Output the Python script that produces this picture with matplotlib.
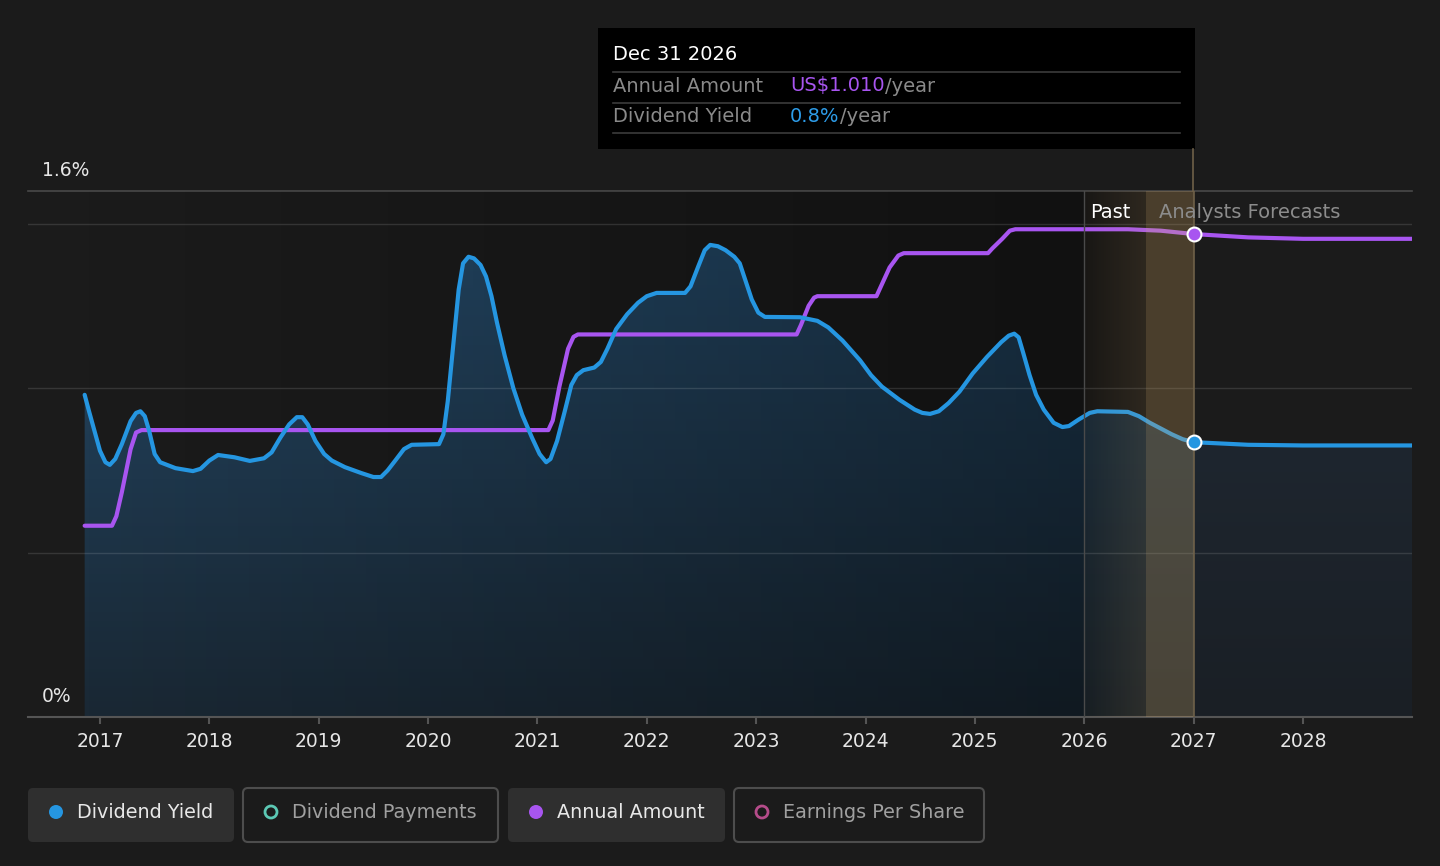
import numpy as np
import matplotlib
matplotlib.use("Agg")
import matplotlib.pyplot as plt
import matplotlib.transforms as mtransforms
from matplotlib.patches import FancyBboxPatch, Circle, Rectangle

W, H = 1440, 866

# dividend yield (%) by fractional year
yield_years = [2016.86, 2016.90, 2016.95, 2017.00, 2017.05, 2017.09, 2017.14, 2017.20, 2017.28,
               2017.33, 2017.37, 2017.41, 2017.45, 2017.50, 2017.55, 2017.69, 2017.85, 2017.92,
               2018.00, 2018.08, 2018.23, 2018.37, 2018.50, 2018.57, 2018.65, 2018.73, 2018.80,
               2018.85, 2018.90, 2018.97, 2019.05, 2019.12, 2019.24, 2019.39, 2019.50, 2019.57,
               2019.63, 2019.70, 2019.78, 2019.85, 2020.10, 2020.14, 2020.18, 2020.23, 2020.28,
               2020.32, 2020.37, 2020.42, 2020.48, 2020.53, 2020.58, 2020.63, 2020.70, 2020.78,
               2020.86, 2020.95, 2021.02, 2021.08, 2021.12, 2021.18, 2021.25, 2021.31, 2021.36,
               2021.42, 2021.52, 2021.58, 2021.64, 2021.72, 2021.82, 2021.92, 2022.00, 2022.09,
               2022.35, 2022.40, 2022.47, 2022.53, 2022.58, 2022.65, 2022.72, 2022.80, 2022.85,
               2022.90, 2022.96, 2023.02, 2023.08, 2023.40, 2023.56, 2023.66, 2023.79, 2023.95,
               2024.05, 2024.15, 2024.31, 2024.45, 2024.52, 2024.59, 2024.67, 2024.76, 2024.86,
               2024.98, 2025.11, 2025.24, 2025.31, 2025.36, 2025.40, 2025.44, 2025.50, 2025.56,
               2025.63, 2025.72, 2025.80, 2025.86, 2025.95, 2026.05, 2026.12, 2026.40, 2026.50,
               2026.60, 2026.80, 2026.90, 2027.00, 2027.50, 2028.00, 2029.00]
yield_pct = [0.98, 0.93, 0.87, 0.81, 0.775, 0.767, 0.785, 0.83, 0.90,
             0.925, 0.93, 0.915, 0.87, 0.80, 0.775, 0.757, 0.748, 0.755,
             0.78, 0.797, 0.79, 0.779, 0.787, 0.805, 0.85, 0.89, 0.912,
             0.912, 0.89, 0.84, 0.80, 0.78, 0.76, 0.742, 0.73, 0.73,
             0.75, 0.78, 0.815, 0.828, 0.83, 0.86, 0.96, 1.13, 1.30,
             1.38, 1.40, 1.395, 1.375, 1.34, 1.28, 1.20, 1.10, 1.00,
             0.92, 0.85, 0.80, 0.775, 0.785, 0.84, 0.93, 1.01, 1.04,
             1.055, 1.063, 1.08, 1.12, 1.18, 1.225, 1.26, 1.28, 1.29,
             1.29, 1.31, 1.37, 1.42, 1.436, 1.432, 1.42, 1.40, 1.38,
             1.33, 1.27, 1.23, 1.217, 1.216, 1.205, 1.185, 1.145, 1.085,
             1.04, 1.005, 0.965, 0.935, 0.925, 0.922, 0.93, 0.955, 0.99,
             1.045, 1.095, 1.14, 1.16, 1.166, 1.155, 1.11, 1.04, 0.98,
             0.935, 0.895, 0.882, 0.885, 0.905, 0.925, 0.93, 0.928, 0.915,
             0.895, 0.86, 0.845, 0.836, 0.828, 0.826, 0.826]

# annual dividend amount (US$) by fractional year
amount_years = [2016.86, 2017.11, 2017.15, 2017.20, 2017.28, 2017.33, 2017.38, 2021.10, 2021.14,
                2021.20, 2021.28, 2021.33, 2021.37, 2023.37, 2023.41, 2023.48, 2023.53, 2023.56,
                2024.10, 2024.14, 2024.22, 2024.30, 2024.35, 2025.12, 2025.16, 2025.25, 2025.32,
                2025.37, 2026.40, 2026.70, 2027.00, 2027.50, 2028.00, 2029.00]
amount_usd = [0.40, 0.40, 0.42, 0.47, 0.56, 0.595, 0.60, 0.60, 0.62,
              0.69, 0.77, 0.795, 0.80, 0.80, 0.82, 0.86, 0.877, 0.88,
              0.88, 0.90, 0.94, 0.965, 0.97, 0.97, 0.98, 1.00, 1.017,
              1.02, 1.02, 1.017, 1.010, 1.003, 1.000, 1.000]

year_ticks = list(range(2017, 2029))
y_labels = ["0%", "1.6%"]
legend_labels = ["Dividend Yield", "Dividend Payments", "Annual Amount", "Earnings Per Share"]

past_start, forecast_start = 2026.0, 2027.0
YMAX = 1.6
AMOUNT_MAX = 1.1
X0, X1 = 2016.342, 2028.997

BG = "#1b1b1b"
BLUE = "#2596e1"
PURPLE = "#a855f0"

fig = plt.figure(figsize=(W / 100, H / 100), dpi=100, facecolor=BG)
ax = fig.add_axes([28 / W, 1 - 717 / H, (1412 - 28) / W, (717 - 191) / H])
ax.set_facecolor(BG)
ax.set_xlim(X0, X1)
ax.set_ylim(0, YMAX)

# area under the yield line: gradient images clipped to the fill polygon
poly = ax.fill_between(yield_years, yield_pct, 0, facecolor="none", edgecolor="none")
clip = poly.get_paths()[0]

t = np.linspace(0, 1, 256)[:, None]
top, bot = np.array([36, 72, 102]) / 255, np.array([26, 40, 52]) / 255
past_img = (bot + (top - bot) * t)[:, None, :]
im = ax.imshow(past_img, extent=[X0, forecast_start, 0, 1.45], origin="lower",
               aspect="auto", zorder=1, interpolation="bilinear")
im.set_clip_path(clip, ax.transData)

top, bot = np.array([30, 38, 47]) / 255, np.array([26, 31, 37]) / 255
fc_img = (bot + (top - bot) * t)[:, None, :]
im = ax.imshow(fc_img, extent=[forecast_start, X1, 0, 0.83], origin="lower",
               aspect="auto", zorder=1.1, interpolation="bilinear")
im.set_clip_path(clip, ax.transData)

# darkening toward the present
xs = np.linspace(X0, X1, 1200)
shade = np.zeros((1, xs.size, 4))
a = np.clip((xs - 2016.8) / (past_start - 2016.8), 0, 1) * 0.37
a[xs > forecast_start] = 0
shade[0, :, 3] = a
ax.imshow(shade, extent=[X0, X1, 0, YMAX], aspect="auto", zorder=1.5, interpolation="bilinear")

# gridlines
for g in [0.5, 1.0, 1.5]:
    ax.axhline(g, color="white", alpha=0.12, lw=1, zorder=2)
ax.axhline(YMAX, color="white", alpha=0.2, lw=1.2, zorder=2, clip_on=False)

# lines
amount_trans = mtransforms.Affine2D().scale(1, YMAX / AMOUNT_MAX) + ax.transData
ax.plot(amount_years, amount_usd, color=PURPLE, lw=3, transform=amount_trans,
        solid_joinstyle="round", solid_capstyle="round", zorder=3)
ax.plot(yield_years, yield_pct, color=BLUE, lw=3,
        solid_joinstyle="round", solid_capstyle="round", zorder=4)

# past/forecast band
bx = np.linspace(past_start, forecast_start, 400)
band = np.zeros((1, bx.size, 4))
band[0, :, :3] = np.array([210, 170, 110]) / 255
ba = 0.04 + (bx - past_start) / 0.56 * 0.11
ba[bx >= 2026.56] = 0.3
band[0, :, 3] = ba
ax.imshow(band, extent=[past_start, forecast_start, 0, YMAX], aspect="auto", zorder=5,
          interpolation="nearest")
ax.axvline(past_start, color="#4a4a4a", lw=1, zorder=5.5)
ax.axvline(forecast_start, color="#6e6048", lw=1.2, zorder=5.5)

ax.text(2026.05, 1.536, "Past", color="white", fontsize=14, va="center", ha="left", zorder=7)
ax.text(2026.68, 1.536, "Analysts Forecasts", color="#8c8c8c", fontsize=14, va="center",
        ha="left", zorder=7)

# highlighted points
i = yield_years.index(forecast_start)
ax.plot(yield_years[i], yield_pct[i], "o", ms=10, mfc=BLUE, mec="white", mew=1.5, zorder=8)
j = amount_years.index(forecast_start)
ax.plot(amount_years[j], amount_usd[j], "o", ms=10, mfc=PURPLE, mec="white", mew=1.5,
        transform=amount_trans, zorder=8)

# axes styling
for s in ["top", "left", "right"]:
    ax.spines[s].set_visible(False)
ax.spines["bottom"].set_color("#555555")
ax.spines["bottom"].set_linewidth(1.5)
ax.set_yticks([])
ax.set_xticks(year_ticks)
ax.set_xticklabels([str(y) for y in year_ticks])
ax.tick_params(axis="x", colors="#555555", length=5, width=1.5, pad=6,
               labelcolor="#e6e6e6", labelsize=13.5)

# overlay in pixel coordinates for tooltip, labels and legend
ov = fig.add_axes([0, 0, 1, 1])
ov.set_xlim(0, W)
ov.set_ylim(H, 0)
ov.axis("off")
ov.patch.set_visible(False)

ov.text(42, 170, y_labels[1], color="#e6e6e6", fontsize=13.5, va="center", ha="left")
ov.text(42, 696, y_labels[0], color="#e6e6e6", fontsize=13.5, va="center", ha="left")

# tooltip
ov.plot([1193, 1193], [149, 191], color="#6e6048", lw=1.2)
ov.add_patch(Rectangle((598, 28), 597, 121, facecolor="black", edgecolor="none"))
ov.text(613, 54, "Dec 31 2026", color="white", fontsize=14, va="center", ha="left")
for yy in [72, 103, 133]:
    ov.plot([613, 1180], [yy, yy], color="#3c3c3c", lw=1.2)
ov.text(613, 86, "Annual Amount", color="#8a8a8a", fontsize=14, va="center", ha="left")
ov.text(613, 116, "Dividend Yield", color="#8a8a8a", fontsize=14, va="center", ha="left")

fig.canvas.draw()
renderer = fig.canvas.get_renderer()
inv = ov.transData.inverted()
for yy, val, col in [(86, "US$%.3f" % amount_usd[j], PURPLE), (116, "%.1f%%" % yield_pct[i], "#2d9ce8")]:
    tv = ov.text(790, yy, val, color=col, fontsize=14, va="center", ha="left")
    bb = tv.get_window_extent(renderer)
    xend = inv.transform((bb.x1, bb.y0))[0]
    ov.text(xend, yy, "/year", color="#8a8a8a", fontsize=14, va="center", ha="left")

# legend
legend_boxes = [(28, 234, True), (243, 498, False), (508, 725, True), (734, 984, False)]
legend_marks = [(BLUE, True), ("#5cc8b4", False), (PURPLE, True), ("#b54c8a", False)]
for (x0, x1, active), (mc, filled), label in zip(legend_boxes, legend_marks, legend_labels):
    if active:
        box = FancyBboxPatch((x0, 788), x1 - x0, 54, boxstyle="round,pad=0,rounding_size=5",
                             facecolor="#2f2f2f", edgecolor="none")
    else:
        box = FancyBboxPatch((x0, 788), x1 - x0, 54, boxstyle="round,pad=0,rounding_size=5",
                             facecolor=BG, edgecolor="#4d4d4d", lw=1.5)
    ov.add_patch(box)
    cx = x0 + 28
    if filled:
        ov.add_patch(Circle((cx, 812), 7, facecolor=mc, edgecolor="none"))
    else:
        ov.add_patch(Circle((cx, 812), 6, facecolor="none", edgecolor=mc, lw=2))
    ov.text(cx + 21, 812, label, color="#e8e8e8" if active else "#a0a0a0", fontsize=13.8,
            va="center", ha="left")

fig.savefig("out.png", dpi=100, facecolor=BG)
